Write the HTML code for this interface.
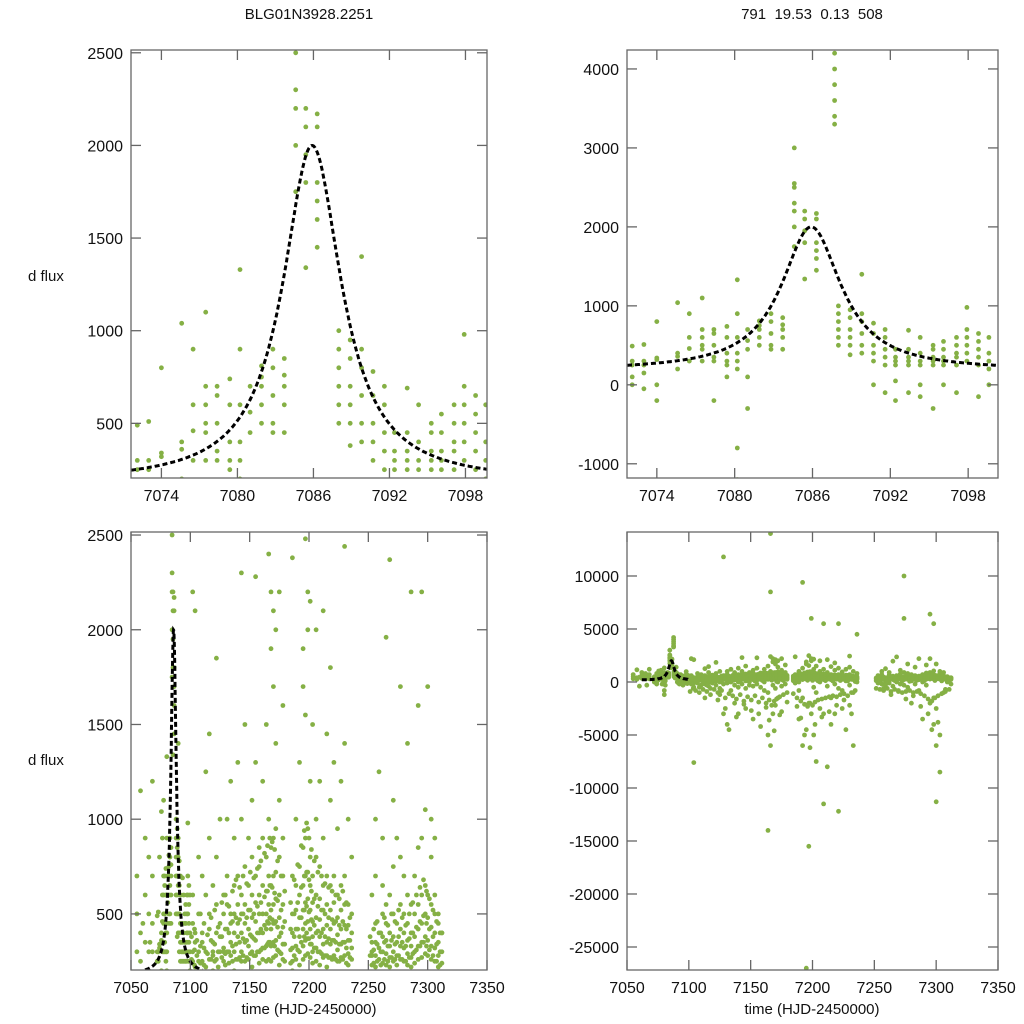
<!DOCTYPE html>
<html><head><meta charset="utf-8"><style>
html,body{margin:0;padding:0;background:#fff;width:1024px;height:1024px;overflow:hidden}
svg{display:block;font-family:"Liberation Sans",sans-serif}
</style></head><body>
<svg id="chart" width="1024" height="1024" viewBox="0 0 1024 1024" style="position:absolute;left:0;top:0"></svg>
<script>
// observation nights: times and flux values
const eventTimes=[7072.1,7073,7074,7075.6,7076.5,7077.5,7078.4,7079.4,7080.2,7081,7081.9,7082.8,7083.7,7084.6,7085.4,7086.3,7087.7,7088,7088.9,7089.8,7090.7,7091.6,7092.4,7093.4,7094.3,7095.3,7096.1,7097.1,7097.9,7098.8,7099.6];
const eventFlux=[[300,250,490,100,0],[510,300,250,150,-50],[340,320,800,0,-200],[1040,360,400,200],[900,460,600,300],[700,500,450,300,1100,600],[700,650,350,300,500,-200],[740,600,400,250,300,100],[1330,900,600,400,300,200,-800,-1200],[700,560,450,-300,100],[810,750,700,600,500],[900,800,650,500,450],[850,760,700,600,450],[2500,2300,2200,2000,1750,3000,2550],[2200,2100,1950,1800,1340],[2170,2100,1800,1700,1600,1450],[4200,4000,3800,3600,3400,3300],[1000,900,800,700,600,500],[950,850,700,600,500,380],[900,800,650,500,400,1400],[780,650,500,400,300,0],[700,600,450,350,250,-100],[450,350,300,250,50,-200],[690,450,350,300,250,-100],[600,400,300,250,0,-150],[500,450,350,300,250,-300],[550,450,350,300,250,0],[600,500,400,350,250,-100],[980,700,600,500,400,300],[650,550,450,350,250,-150],[600,400,300,200,0]];
const seasonTimes=[7055,7058,7062,7065,7068,7102,7104,7107,7110,7113,7116,7119,7122,7125,7128,7131,7134,7137,7140,7143,7146,7149,7152,7155,7158,7161,7164,7166,7168,7170,7172,7175,7178,7186,7189,7192,7195,7197,7199,7201,7203,7206,7209,7212,7215,7218,7221,7224,7227,7230,7233,7236,7253,7256,7259,7262,7265,7268,7271,7274,7277,7280,7283,7286,7289,7292,7295,7298,7300,7303,7306,7309,7312];
const seasonFlux=[[300,500,700],[400,1150,250],[600,350,900],[500,800,300],[700,450,1200,300],
[450,300,250,-200,100,2200,600],[350,220,-500,0,400,2100,-7600],[300,250,-100,500,800,50],[400,350,250,-300,150,700],[600,300,220,-200,100,1250,-1500],[500,420,260,0,-400,1450,900],[350,300,280,-100,200,650],[550,400,260,-300,100,800,1850],[450,380,300,0,-600,-1200,1000],[600,500,320,250,-200,300,11800,-3000],[700,550,420,300,-100,1000,-4000],[500,450,350,280,0,-800,1200],[650,500,400,300,-300,200,900,-2000],[700,550,450,380,260,0,-500,1300,-3000],[600,500,400,300,250,-200,1000,2300],[750,550,450,350,250,100,-600,1500,-2500],[650,520,420,330,260,0,-300,900],[800,600,480,380,300,220,-400,1100,-3500],[700,560,460,360,280,150,-200,1300,2280],[750,600,500,400,300,240,-500,850,-4200],[900,650,500,400,320,260,0,-800,1200],[800,620,500,420,330,250,-1000,1500,-14000,-5000],[1000,700,550,450,350,260,14000,8500,-6000,2400],[850,650,520,420,330,250,-300,2200,-3000,1900],[900,700,550,450,350,270,-600,1700,2100,-2200],[950,720,580,460,360,280,0,1400,2000,-1500],[800,600,480,380,300,230,-400,1100,2200,-2800],[700,550,430,340,260,-200,900,1600],[500,400,320,250,-100,200,700,2380],[650,520,420,330,260,0,-800,1000,-3500],[750,600,480,380,300,230,-1500,1300,9400,-6000],[850,650,520,420,330,260,-27000,-4500,1900,1700],[900,700,560,450,360,280,-15500,2480,1550,-2000],[950,720,580,460,370,290,-3000,2000,2200,6000],[800,650,520,420,340,270,-500,1200,2150,-5000],[700,560,460,380,300,240,-1000,1500,-7500],[800,600,480,400,320,250,0,1000,-2500,2000],[750,580,470,380,300,230,-11500,1200,5500,-3000],[650,520,420,340,270,-400,900,-8000,2100],[700,550,440,350,280,220,-1500,1450,-4000],[650,520,420,340,270,-200,1100,-3000,1800],[700,560,450,360,280,-12200,-600,1300,5500],[600,480,390,310,250,-800,950,-2500],[650,520,420,340,270,100,1200,-4500],[700,550,440,350,280,-300,1400,2440,-2200],[550,440,360,290,230,-1000,1000,-6000],[500,400,320,260,0,800,4500],[350,280,230,-100,300,600],[450,350,280,220,-200,700,1000],[400,320,260,0,-300,1250],[500,380,300,240,-100,650,900],[450,360,290,230,-400,550,1960],[400,330,270,220,0,600,2370],[500,380,300,250,-200,750,1100],[450,350,280,230,10000,-300,900,6000],[550,420,330,260,-500,800,1700],[500,400,320,250,100,700,-2000],[450,360,290,230,-200,600,1400],[400,330,270,220,-800,550,2200],[500,380,300,240,0,700,-3500],[550,420,330,260,-300,850,1600],[600,450,350,270,-2000,900,6400,2200],[650,500,380,290,-4000,-1500,1050,5500],[600,480,360,280,-11300,-6000,1700,-2500],[550,430,330,260,-8500,-5000,800,1000],[500,400,320,250,-1000,600,900],[450,350,280,220,0,500],[400,300,240,-200,400]];
// extra interleaved nights (dense baseline cloud)
const fillTimes=[7060,7066,7101,7103.5,7105.5,7108.5,7111.5,7114.5,7117.5,7120.5,7123.5,7126.5,7129.5,7132.5,7135.5,7138.5,7141.5,7144.5,7147.5,7150.5,7153.5,7156.5,7159.5,7162.5,7165,7167,7169,7171,7173.5,7176.5,7179.5,7184.5,7187.5,7190.5,7193.5,7196,7198,7200,7202,7204.5,7207.5,7210.5,7213.5,7216.5,7219.5,7222.5,7225.5,7228.5,7231.5,7234.5,7251.5,7254.5,7257.5,7260.5,7263.5,7266.5,7269.5,7272.5,7275.5,7278.5,7281.5,7284.5,7287.5,7290.5,7293.5,7296.5,7299,7301.5,7304.5,7307.5,7310.5];
const fillFlux=[[450,-400],[350,-300],[380,260,-900,150],[420,310,230,-600,-200],[360,280,-800,100],[500,330,240,-1000,-500],[450,320,230,-700,50],[390,290,-900,-300],[480,360,260,-1200,-600],[520,340,250,-700,120],[430,300,220,-1000,-1700],[560,380,270,-800,80],[600,420,290,230,-1500,-2500],[540,400,300,240,-1100,-4500],[620,460,330,250,-1300,150],[680,480,340,260,-1600,-3300],[640,470,350,270,-1200,100],[700,500,370,280,-1800,-2100],[660,480,360,270,-1400,160],[720,520,390,290,-1700,-2700],[690,500,370,280,-1300,90],[740,540,400,300,-1900,-3000],[780,560,420,310,-1500,140],[820,590,440,320,-2000,-2400],[860,620,460,340,-1700,-3600],[900,650,480,350,-2200,170],[880,640,470,340,-1800,-4600],[840,610,450,330,-1600,60],[780,570,430,310,-1400,-3100],[700,520,400,290,-1200,130],[620,460,340,250,-1000,-1900],[560,420,310,240,-1100,110],[680,500,380,280,-1500,-2300],[760,560,420,310,-1800,-3400],[860,640,480,350,-2100,-5000],[940,700,520,380,-2300,160],[980,720,540,400,-2000,-6200],[900,680,510,370,-2200,150],[840,620,470,340,-1900,-4000],[780,580,440,320,-1700,90],[720,540,410,300,-1600,-3300],[700,520,400,290,-1500,120],[660,500,380,280,-1400,-2800],[640,480,370,270,-1300,80],[620,470,360,260,-1400,-2200],[600,460,350,260,-1200,140],[580,440,340,250,-1100,-1700],[620,460,350,260,-1300,100],[560,420,320,240,-1000,-3000],[480,360,270,-800,50],[380,280,-600,120],[420,310,240,-700,150],[460,340,250,-800,-600],[400,300,230,-600,90],[480,350,260,-900,-1200],[440,330,250,-700,130],[500,360,270,-800,-900],[460,340,260,-1000,110],[520,380,280,-900,-1600],[480,350,260,-800,70],[440,330,250,-1000,-1300],[500,370,270,-900,160],[560,400,290,-1100,-2300],[600,430,310,-1300,120],[640,460,330,-1600,-3000],[680,490,350,-1800,-4500],[620,450,330,-1500,140],[580,420,310,-1300,-3800],[520,380,280,-1100,100],[460,340,250,-900,-700],[400,300,230,-700,60]];
// model: baseline, amplitude, peak time, width
const modelParams=[180,1820,7085.9,2.8];
const xTicksTop=[7074,7080,7086,7092,7098];
const xTicksBot=[7050,7100,7150,7200,7250,7300,7350];
const yTicksTL=[500,1000,1500,2000,2500];
const yTicksTR=[-1000,0,1000,2000,3000,4000];
const yTicksBL=[500,1000,1500,2000,2500];
const yTicksBR=[-25000,-20000,-15000,-10000,-5000,0,5000,10000];

const NS="http://www.w3.org/2000/svg";
const svg=document.getElementById('chart');
function el(tag,attrs,parent){const e=document.createElementNS(NS,tag);for(const k in attrs)e.setAttribute(k,attrs[k]);(parent||svg).appendChild(e);return e;}
function model(t){const [b,a,t0,w]=modelParams;const d=(t-t0)/w;return b+a/(1+d*d);}

const panels=[
 {id:'top-left',x0:131,x1:487,y0:50,y1:478,xmin:7071.6,xmax:7099.7,ymin:205,ymax:2515,xt:xTicksTop,yt:yTicksTL,mrange:[7071.6,7099.7]},
 {id:'top-right',x0:627,x1:998,y0:50,y1:478,xmin:7071.7,xmax:7100.3,ymin:-1180,ymax:4240,xt:xTicksTop,yt:yTicksTR,mrange:[7071.7,7100.3]},
 {id:'bottom-left',x0:131,x1:487,y0:532,y1:970,xmin:7050,xmax:7350,ymin:204,ymax:2516,xt:xTicksBot,yt:yTicksBL,mrange:[7062,7110]},
 {id:'bottom-right',x0:627,x1:998,y0:532,y1:970,xmin:7050,xmax:7350,ymin:-27170,ymax:14150,xt:xTicksBot,yt:yTicksBR,mrange:[7062,7100]}
];
panels.forEach((p,i)=>{
 const X=t=>p.x0+(t-p.xmin)/(p.xmax-p.xmin)*(p.x1-p.x0);
 const Y=v=>p.y1-(v-p.ymin)/(p.ymax-p.ymin)*(p.y1-p.y0);
 const g=el('g',{});
 
 
 const cp=el('clipPath',{id:'cp'+i},g);
 el('rect',{x:p.x0,y:p.y0,width:p.x1-p.x0,height:p.y1-p.y0},cp);
 const pts=el('g',{'clip-path':'url(#cp'+i+')',fill:'#85b045'},g);
 
 
 const r=2.4;
 const draw=(ts,fs)=>ts.forEach((t,j)=>{if(t<p.xmin-1||t>p.xmax+1)return;fs[j].forEach(v=>{const y=Y(v);if(y<p.y0-4||y>p.y1+4)return;el('circle',{cx:X(t).toFixed(1),cy:y.toFixed(1),r:r},pts);});});
 draw(eventTimes,eventFlux);draw(seasonTimes,seasonFlux);draw(fillTimes,fillFlux);
 let d='';for(let k=0;k<=300;k++){const t=p.mrange[0]+(p.mrange[1]-p.mrange[0])*k/300;const y=Math.min(Y(model(t)),p.y1+3);d+=(k?'L':'M')+X(t).toFixed(1)+','+y.toFixed(1);}
 const ml=el('path',{d:d,fill:'none',stroke:'#000','stroke-width':3,'stroke-dasharray':'5,3','clip-path':'url(#cp'+i+')'},g);
 
 
 const fr=el('rect',{x:p.x0,y:p.y0,width:p.x1-p.x0,height:p.y1-p.y0,fill:'none',stroke:'#666','stroke-width':1.3},g);
 
 
 p.xt.forEach(t=>{const x=X(t);
  el('line',{x1:x,x2:x,y1:p.y1,y2:p.y1-10,stroke:'#666','stroke-width':1.3},g);
  el('line',{x1:x,x2:x,y1:p.y0,y2:p.y0+10,stroke:'#666','stroke-width':1.3},g);
  const tx=el('text',{x:x,y:p.y1+23,'text-anchor':'middle','font-size':16,fill:'#111'},g);tx.textContent=t;
  
  });
 p.yt.forEach(v=>{const y=Y(v);
  el('line',{x1:p.x0,x2:p.x0+10,y1:y,y2:y,stroke:'#666','stroke-width':1.3},g);
  el('line',{x1:p.x1,x2:p.x1-10,y1:y,y2:y,stroke:'#666','stroke-width':1.3},g);
  const ty=el('text',{x:p.x0-8,y:y+6,'text-anchor':'end','font-size':16,fill:'#111'},g);ty.textContent=v;
  
  });
});
</script>
<div style="position:absolute;left:0;top:0;width:1024px;height:1024px;pointer-events:none;font-family:'Liberation Sans',sans-serif;font-size:15px;line-height:18px;color:#111">
<div style="position:absolute;left:209px;top:6px;width:200px;text-align:center">BLG01N3928.2251</div>
<div style="position:absolute;left:712px;top:6px;width:200px;text-align:center;white-space:pre">791  19.53  0.13  508</div>
<div style="position:absolute;left:28px;top:268px">d flux</div>
<div style="position:absolute;left:28px;top:752px">d flux</div>
<div style="position:absolute;left:159px;top:1001px;width:300px;text-align:center">time (HJD-2450000)</div>
<div style="position:absolute;left:662px;top:1001px;width:300px;text-align:center">time (HJD-2450000)</div>
</div>
</body></html>
